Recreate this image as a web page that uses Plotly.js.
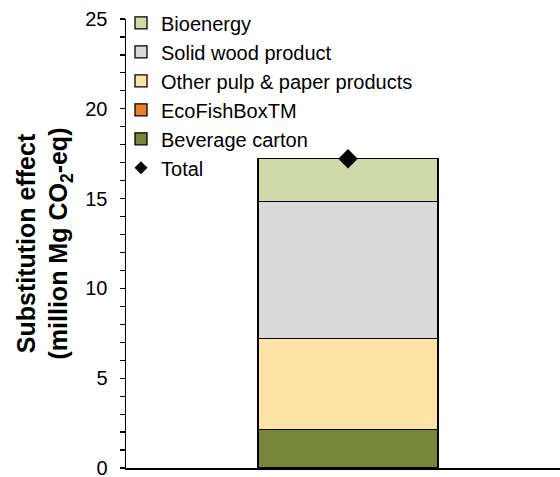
<!DOCTYPE html>
<html>
<head>
<meta charset="utf-8">
<script src="https://cdn.plot.ly/plotly-3.0.1.min.js"></script>
<style>html,body{margin:0;padding:0;background:#fff;}#chart{width:560px;height:477px;}</style>
</head>
<body>
<div id="chart"></div>
<script>
const category = ["Scenario"];
const beverageCarton = [2.13];
const ecoFishBox = [0.0];
const otherPulpPaper = [5.09];
const solidWood = [7.6];
const bioenergy = [2.4];
const total = [17.22];
const yTicks = [0, 5, 10, 15, 20, 25];

const names = ["Beverage carton", "EcoFishBoxTM", "Other pulp & paper products", "Solid wood product", "Bioenergy"];
const series = [beverageCarton, ecoFishBox, otherPulpPaper, solidWood, bioenergy];
const colors = ["#78863A", "#ED7D31", "#FFE2A6", "#D9D9D9", "#D0D9A9"];
const ranks = [5, 4, 3, 2, 1];

const data = series.map((v, i) => ({
  type: "bar",
  x: category,
  y: v,
  name: names[i],
  width: 0.415,
  marker: {color: colors[i], line: {color: "#000", width: 1.3}},
  legendrank: ranks[i],
  hoverinfo: "skip"
}));
// legend entry (small diamond), covered by the larger marker below
data.push({
  type: "scatter", mode: "markers",
  x: category, y: total,
  name: "Total",
  marker: {symbol: "diamond", color: "#000", size: 10},
  legendrank: 6, hoverinfo: "skip"
});
data.push({
  type: "scatter", mode: "markers",
  x: category, y: total,
  name: "Total",
  showlegend: false,
  marker: {symbol: "diamond", color: "#000", size: 15},
  hoverinfo: "skip"
});

const layout = {
  width: 560, height: 477,
  margin: {l: 126, r: 0, t: 19, b: 9},
  barmode: "stack",
  paper_bgcolor: "#fff",
  plot_bgcolor: "#fff",
  font: {family: "Arial, 'Liberation Sans', sans-serif", size: 20, color: "#000"},
  showlegend: true,
  legend: {
    x: -0.0115, y: 1.035, xanchor: "left", yanchor: "top",
    traceorder: "normal",
    bgcolor: "rgba(0,0,0,0)",
    font: {size: 20, color: "#000"},
    itemwidth: 30
  },
  xaxis: {
    type: "category",
    range: [-0.5115, 0.4885],
    showticklabels: false,
    ticks: "",
    showline: true, linecolor: "#000", linewidth: 1.5,
    showgrid: false, zeroline: false
  },
  yaxis: {
    range: [0, 25],
    tickvals: yTicks,
    ticks: "outside", ticklen: 5, tickwidth: 1.2, tickcolor: "#000",
    minor: {dtick: 1, ticks: "outside", ticklen: 5, tickwidth: 1.2, tickcolor: "#000", showgrid: false},
    showline: true, linecolor: "#000", linewidth: 1.5,
    showgrid: false, zeroline: false,
    tickfont: {size: 20, color: "#000"},
    ticklabelstandoff: 8,
    ticklabeloverflow: "allow",
    title: {
      text: "<b>Substitution effect</b><br><b>(million Mg CO<sub>2</sub>-eq)</b>",
      font: {size: 25, color: "#000"},
      standoff: 10
    }
  }
};

Plotly.newPlot("chart", data, layout, {displayModeBar: false, staticPlot: true});
</script>
</body>
</html>
